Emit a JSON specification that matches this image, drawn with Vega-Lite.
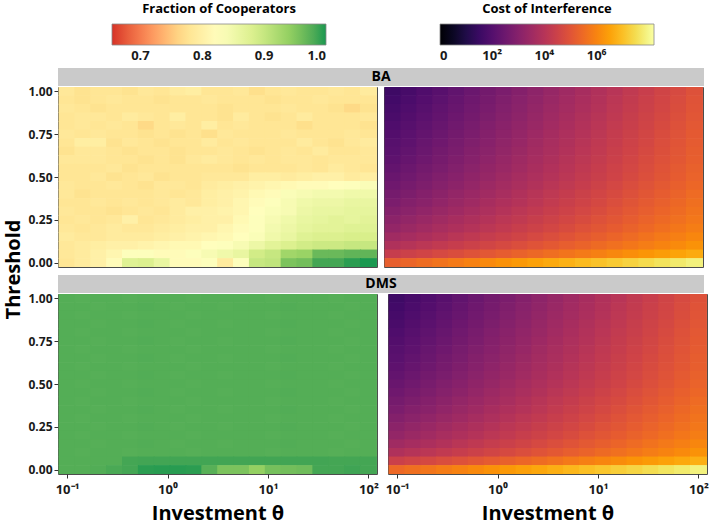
{"$schema":"https://vega.github.io/schema/vega-lite/v6.json","padding":{"left":4,"top":3,"right":0,"bottom":0},
"config":{"font":"Open Sans","view":{"stroke":"#4d4d4d","strokeWidth":1},"axis":{"labelFont":"Open Sans","labelFontWeight":"bold","labelFontSize":12,"labelColor":"#1a1a1a","tickColor":"#333","tickSize":4,"domain":false,"grid":false,"titleFont":"Open Sans","titleFontWeight":"bold","titleFontSize":20,"titleColor":"#000"},"legend":{"labelFont":"Open Sans","titleFont":"Open Sans"}},
"datasets":{"cells":[
{"n":"BA","t":1,"x":0.1,"f":0.785,"c":1.56},{"n":"BA","t":1,"x":0.1438,"f":0.775,"c":1.74},{"n":"BA","t":1,"x":0.2069,"f":0.78,"c":1.91},{"n":"BA","t":1,"x":0.2976,"f":0.78,"c":2.09},{"n":"BA","t":1,"x":0.4281,"f":0.775,"c":2.27},{"n":"BA","t":1,"x":0.6158,"f":0.785,"c":2.44},{"n":"BA","t":1,"x":0.8859,"f":0.78,"c":2.62},{"n":"BA","t":1,"x":1.274,"f":0.79,"c":2.8},{"n":"BA","t":1,"x":1.833,"f":0.795,"c":2.97},{"n":"BA","t":1,"x":2.637,"f":0.78,"c":3.15},{"n":"BA","t":1,"x":3.793,"f":0.78,"c":3.33},{"n":"BA","t":1,"x":5.456,"f":0.785,"c":3.51},{"n":"BA","t":1,"x":7.848,"f":0.77,"c":3.68},{"n":"BA","t":1,"x":11.29,"f":0.78,"c":3.86},{"n":"BA","t":1,"x":16.24,"f":0.785,"c":4.04},{"n":"BA","t":1,"x":23.36,"f":0.78,"c":4.21},{"n":"BA","t":1,"x":33.6,"f":0.78,"c":4.39},{"n":"BA","t":1,"x":48.33,"f":0.785,"c":4.57},{"n":"BA","t":1,"x":69.52,"f":0.78,"c":4.74},{"n":"BA","t":1,"x":100,"f":0.79,"c":4.92},
{"n":"BA","t":0.95,"x":0.1,"f":0.78,"c":1.64},{"n":"BA","t":0.95,"x":0.1438,"f":0.775,"c":1.82},{"n":"BA","t":0.95,"x":0.2069,"f":0.78,"c":1.99},{"n":"BA","t":0.95,"x":0.2976,"f":0.785,"c":2.17},{"n":"BA","t":0.95,"x":0.4281,"f":0.78,"c":2.34},{"n":"BA","t":0.95,"x":0.6158,"f":0.78,"c":2.52},{"n":"BA","t":0.95,"x":0.8859,"f":0.775,"c":2.69},{"n":"BA","t":0.95,"x":1.274,"f":0.78,"c":2.87},{"n":"BA","t":0.95,"x":1.833,"f":0.78,"c":3.04},{"n":"BA","t":0.95,"x":2.637,"f":0.785,"c":3.22},{"n":"BA","t":0.95,"x":3.793,"f":0.78,"c":3.39},{"n":"BA","t":0.95,"x":5.456,"f":0.78,"c":3.57},{"n":"BA","t":0.95,"x":7.848,"f":0.78,"c":3.74},{"n":"BA","t":0.95,"x":11.29,"f":0.775,"c":3.92},{"n":"BA","t":0.95,"x":16.24,"f":0.78,"c":4.09},{"n":"BA","t":0.95,"x":23.36,"f":0.78,"c":4.27},{"n":"BA","t":0.95,"x":33.6,"f":0.785,"c":4.44},{"n":"BA","t":0.95,"x":48.33,"f":0.78,"c":4.62},{"n":"BA","t":0.95,"x":69.52,"f":0.78,"c":4.79},{"n":"BA","t":0.95,"x":100,"f":0.78,"c":4.97},
{"n":"BA","t":0.9,"x":0.1,"f":0.785,"c":1.72},{"n":"BA","t":0.9,"x":0.1438,"f":0.78,"c":1.89},{"n":"BA","t":0.9,"x":0.2069,"f":0.775,"c":2.07},{"n":"BA","t":0.9,"x":0.2976,"f":0.78,"c":2.24},{"n":"BA","t":0.9,"x":0.4281,"f":0.78,"c":2.41},{"n":"BA","t":0.9,"x":0.6158,"f":0.78,"c":2.58},{"n":"BA","t":0.9,"x":0.8859,"f":0.78,"c":2.76},{"n":"BA","t":0.9,"x":1.274,"f":0.78,"c":2.93},{"n":"BA","t":0.9,"x":1.833,"f":0.78,"c":3.1},{"n":"BA","t":0.9,"x":2.637,"f":0.78,"c":3.27},{"n":"BA","t":0.9,"x":3.793,"f":0.775,"c":3.45},{"n":"BA","t":0.9,"x":5.456,"f":0.78,"c":3.62},{"n":"BA","t":0.9,"x":7.848,"f":0.78,"c":3.79},{"n":"BA","t":0.9,"x":11.29,"f":0.78,"c":3.96},{"n":"BA","t":0.9,"x":16.24,"f":0.785,"c":4.14},{"n":"BA","t":0.9,"x":23.36,"f":0.78,"c":4.31},{"n":"BA","t":0.9,"x":33.6,"f":0.78,"c":4.48},{"n":"BA","t":0.9,"x":48.33,"f":0.775,"c":4.65},{"n":"BA","t":0.9,"x":69.52,"f":0.765,"c":4.83},{"n":"BA","t":0.9,"x":100,"f":0.775,"c":5.0},
{"n":"BA","t":0.85,"x":0.1,"f":0.78,"c":1.8},{"n":"BA","t":0.85,"x":0.1438,"f":0.785,"c":1.97},{"n":"BA","t":0.85,"x":0.2069,"f":0.785,"c":2.14},{"n":"BA","t":0.85,"x":0.2976,"f":0.78,"c":2.31},{"n":"BA","t":0.85,"x":0.4281,"f":0.79,"c":2.48},{"n":"BA","t":0.85,"x":0.6158,"f":0.785,"c":2.65},{"n":"BA","t":0.85,"x":0.8859,"f":0.78,"c":2.82},{"n":"BA","t":0.85,"x":1.274,"f":0.795,"c":2.99},{"n":"BA","t":0.85,"x":1.833,"f":0.78,"c":3.16},{"n":"BA","t":0.85,"x":2.637,"f":0.78,"c":3.33},{"n":"BA","t":0.85,"x":3.793,"f":0.775,"c":3.51},{"n":"BA","t":0.85,"x":5.456,"f":0.79,"c":3.68},{"n":"BA","t":0.85,"x":7.848,"f":0.78,"c":3.85},{"n":"BA","t":0.85,"x":11.29,"f":0.775,"c":4.02},{"n":"BA","t":0.85,"x":16.24,"f":0.78,"c":4.19},{"n":"BA","t":0.85,"x":23.36,"f":0.79,"c":4.36},{"n":"BA","t":0.85,"x":33.6,"f":0.78,"c":4.53},{"n":"BA","t":0.85,"x":48.33,"f":0.78,"c":4.7},{"n":"BA","t":0.85,"x":69.52,"f":0.78,"c":4.87},{"n":"BA","t":0.85,"x":100,"f":0.785,"c":5.04},
{"n":"BA","t":0.8,"x":0.1,"f":0.78,"c":1.89},{"n":"BA","t":0.8,"x":0.1438,"f":0.785,"c":2.06},{"n":"BA","t":0.8,"x":0.2069,"f":0.78,"c":2.22},{"n":"BA","t":0.8,"x":0.2976,"f":0.785,"c":2.39},{"n":"BA","t":0.8,"x":0.4281,"f":0.78,"c":2.56},{"n":"BA","t":0.8,"x":0.6158,"f":0.765,"c":2.73},{"n":"BA","t":0.8,"x":0.8859,"f":0.78,"c":2.9},{"n":"BA","t":0.8,"x":1.274,"f":0.785,"c":3.07},{"n":"BA","t":0.8,"x":1.833,"f":0.78,"c":3.24},{"n":"BA","t":0.8,"x":2.637,"f":0.795,"c":3.4},{"n":"BA","t":0.8,"x":3.793,"f":0.78,"c":3.57},{"n":"BA","t":0.8,"x":5.456,"f":0.785,"c":3.74},{"n":"BA","t":0.8,"x":7.848,"f":0.78,"c":3.91},{"n":"BA","t":0.8,"x":11.29,"f":0.78,"c":4.08},{"n":"BA","t":0.8,"x":16.24,"f":0.78,"c":4.25},{"n":"BA","t":0.8,"x":23.36,"f":0.77,"c":4.41},{"n":"BA","t":0.8,"x":33.6,"f":0.78,"c":4.58},{"n":"BA","t":0.8,"x":48.33,"f":0.78,"c":4.75},{"n":"BA","t":0.8,"x":69.52,"f":0.78,"c":4.92},{"n":"BA","t":0.8,"x":100,"f":0.775,"c":5.09},
{"n":"BA","t":0.75,"x":0.1,"f":0.785,"c":1.97},{"n":"BA","t":0.75,"x":0.1438,"f":0.78,"c":2.14},{"n":"BA","t":0.75,"x":0.2069,"f":0.785,"c":2.3},{"n":"BA","t":0.75,"x":0.2976,"f":0.78,"c":2.47},{"n":"BA","t":0.75,"x":0.4281,"f":0.78,"c":2.63},{"n":"BA","t":0.75,"x":0.6158,"f":0.775,"c":2.8},{"n":"BA","t":0.75,"x":0.8859,"f":0.78,"c":2.97},{"n":"BA","t":0.75,"x":1.274,"f":0.775,"c":3.13},{"n":"BA","t":0.75,"x":1.833,"f":0.78,"c":3.3},{"n":"BA","t":0.75,"x":2.637,"f":0.77,"c":3.47},{"n":"BA","t":0.75,"x":3.793,"f":0.785,"c":3.63},{"n":"BA","t":0.75,"x":5.456,"f":0.78,"c":3.8},{"n":"BA","t":0.75,"x":7.848,"f":0.78,"c":3.96},{"n":"BA","t":0.75,"x":11.29,"f":0.78,"c":4.13},{"n":"BA","t":0.75,"x":16.24,"f":0.785,"c":4.3},{"n":"BA","t":0.75,"x":23.36,"f":0.78,"c":4.46},{"n":"BA","t":0.75,"x":33.6,"f":0.78,"c":4.63},{"n":"BA","t":0.75,"x":48.33,"f":0.78,"c":4.8},{"n":"BA","t":0.75,"x":69.52,"f":0.785,"c":4.96},{"n":"BA","t":0.75,"x":100,"f":0.78,"c":5.13},
{"n":"BA","t":0.7,"x":0.1,"f":0.78,"c":2.05},{"n":"BA","t":0.7,"x":0.1438,"f":0.795,"c":2.21},{"n":"BA","t":0.7,"x":0.2069,"f":0.795,"c":2.38},{"n":"BA","t":0.7,"x":0.2976,"f":0.775,"c":2.54},{"n":"BA","t":0.7,"x":0.4281,"f":0.785,"c":2.71},{"n":"BA","t":0.7,"x":0.6158,"f":0.78,"c":2.87},{"n":"BA","t":0.7,"x":0.8859,"f":0.775,"c":3.03},{"n":"BA","t":0.7,"x":1.274,"f":0.78,"c":3.2},{"n":"BA","t":0.7,"x":1.833,"f":0.78,"c":3.36},{"n":"BA","t":0.7,"x":2.637,"f":0.79,"c":3.53},{"n":"BA","t":0.7,"x":3.793,"f":0.78,"c":3.69},{"n":"BA","t":0.7,"x":5.456,"f":0.785,"c":3.85},{"n":"BA","t":0.7,"x":7.848,"f":0.78,"c":4.02},{"n":"BA","t":0.7,"x":11.29,"f":0.78,"c":4.18},{"n":"BA","t":0.7,"x":16.24,"f":0.78,"c":4.35},{"n":"BA","t":0.7,"x":23.36,"f":0.79,"c":4.51},{"n":"BA","t":0.7,"x":33.6,"f":0.78,"c":4.67},{"n":"BA","t":0.7,"x":48.33,"f":0.775,"c":4.84},{"n":"BA","t":0.7,"x":69.52,"f":0.785,"c":5.0},{"n":"BA","t":0.7,"x":100,"f":0.79,"c":5.17},
{"n":"BA","t":0.65,"x":0.1,"f":0.775,"c":2.13},{"n":"BA","t":0.65,"x":0.1438,"f":0.785,"c":2.29},{"n":"BA","t":0.65,"x":0.2069,"f":0.785,"c":2.45},{"n":"BA","t":0.65,"x":0.2976,"f":0.78,"c":2.62},{"n":"BA","t":0.65,"x":0.4281,"f":0.775,"c":2.78},{"n":"BA","t":0.65,"x":0.6158,"f":0.78,"c":2.94},{"n":"BA","t":0.65,"x":0.8859,"f":0.78,"c":3.1},{"n":"BA","t":0.65,"x":1.274,"f":0.775,"c":3.26},{"n":"BA","t":0.65,"x":1.833,"f":0.78,"c":3.42},{"n":"BA","t":0.65,"x":2.637,"f":0.78,"c":3.59},{"n":"BA","t":0.65,"x":3.793,"f":0.785,"c":3.75},{"n":"BA","t":0.65,"x":5.456,"f":0.78,"c":3.91},{"n":"BA","t":0.65,"x":7.848,"f":0.775,"c":4.07},{"n":"BA","t":0.65,"x":11.29,"f":0.78,"c":4.23},{"n":"BA","t":0.65,"x":16.24,"f":0.785,"c":4.4},{"n":"BA","t":0.65,"x":23.36,"f":0.78,"c":4.56},{"n":"BA","t":0.65,"x":33.6,"f":0.79,"c":4.72},{"n":"BA","t":0.65,"x":48.33,"f":0.78,"c":4.88},{"n":"BA","t":0.65,"x":69.52,"f":0.78,"c":5.04},{"n":"BA","t":0.65,"x":100,"f":0.785,"c":5.21},
{"n":"BA","t":0.6,"x":0.1,"f":0.785,"c":2.21},{"n":"BA","t":0.6,"x":0.1438,"f":0.785,"c":2.37},{"n":"BA","t":0.6,"x":0.2069,"f":0.785,"c":2.53},{"n":"BA","t":0.6,"x":0.2976,"f":0.78,"c":2.69},{"n":"BA","t":0.6,"x":0.4281,"f":0.78,"c":2.85},{"n":"BA","t":0.6,"x":0.6158,"f":0.775,"c":3.01},{"n":"BA","t":0.6,"x":0.8859,"f":0.78,"c":3.17},{"n":"BA","t":0.6,"x":1.274,"f":0.775,"c":3.33},{"n":"BA","t":0.6,"x":1.833,"f":0.785,"c":3.49},{"n":"BA","t":0.6,"x":2.637,"f":0.79,"c":3.65},{"n":"BA","t":0.6,"x":3.793,"f":0.785,"c":3.81},{"n":"BA","t":0.6,"x":5.456,"f":0.78,"c":3.97},{"n":"BA","t":0.6,"x":7.848,"f":0.785,"c":4.13},{"n":"BA","t":0.6,"x":11.29,"f":0.78,"c":4.29},{"n":"BA","t":0.6,"x":16.24,"f":0.785,"c":4.45},{"n":"BA","t":0.6,"x":23.36,"f":0.785,"c":4.61},{"n":"BA","t":0.6,"x":33.6,"f":0.78,"c":4.77},{"n":"BA","t":0.6,"x":48.33,"f":0.785,"c":4.92},{"n":"BA","t":0.6,"x":69.52,"f":0.785,"c":5.08},{"n":"BA","t":0.6,"x":100,"f":0.785,"c":5.24},
{"n":"BA","t":0.55,"x":0.1,"f":0.78,"c":2.3},{"n":"BA","t":0.55,"x":0.1438,"f":0.78,"c":2.46},{"n":"BA","t":0.55,"x":0.2069,"f":0.78,"c":2.62},{"n":"BA","t":0.55,"x":0.2976,"f":0.785,"c":2.77},{"n":"BA","t":0.55,"x":0.4281,"f":0.775,"c":2.93},{"n":"BA","t":0.55,"x":0.6158,"f":0.78,"c":3.09},{"n":"BA","t":0.55,"x":0.8859,"f":0.78,"c":3.25},{"n":"BA","t":0.55,"x":1.274,"f":0.78,"c":3.4},{"n":"BA","t":0.55,"x":1.833,"f":0.78,"c":3.56},{"n":"BA","t":0.55,"x":2.637,"f":0.78,"c":3.72},{"n":"BA","t":0.55,"x":3.793,"f":0.78,"c":3.88},{"n":"BA","t":0.55,"x":5.456,"f":0.775,"c":4.03},{"n":"BA","t":0.55,"x":7.848,"f":0.78,"c":4.19},{"n":"BA","t":0.55,"x":11.29,"f":0.78,"c":4.35},{"n":"BA","t":0.55,"x":16.24,"f":0.78,"c":4.51},{"n":"BA","t":0.55,"x":23.36,"f":0.785,"c":4.66},{"n":"BA","t":0.55,"x":33.6,"f":0.78,"c":4.82},{"n":"BA","t":0.55,"x":48.33,"f":0.79,"c":4.98},{"n":"BA","t":0.55,"x":69.52,"f":0.785,"c":5.14},{"n":"BA","t":0.55,"x":100,"f":0.78,"c":5.29},
{"n":"BA","t":0.5,"x":0.1,"f":0.78,"c":2.42},{"n":"BA","t":0.5,"x":0.1438,"f":0.78,"c":2.57},{"n":"BA","t":0.5,"x":0.2069,"f":0.785,"c":2.73},{"n":"BA","t":0.5,"x":0.2976,"f":0.775,"c":2.88},{"n":"BA","t":0.5,"x":0.4281,"f":0.78,"c":3.03},{"n":"BA","t":0.5,"x":0.6158,"f":0.785,"c":3.19},{"n":"BA","t":0.5,"x":0.8859,"f":0.775,"c":3.34},{"n":"BA","t":0.5,"x":1.274,"f":0.78,"c":3.49},{"n":"BA","t":0.5,"x":1.833,"f":0.78,"c":3.65},{"n":"BA","t":0.5,"x":2.637,"f":0.785,"c":3.8},{"n":"BA","t":0.5,"x":3.793,"f":0.785,"c":3.95},{"n":"BA","t":0.5,"x":5.456,"f":0.785,"c":4.11},{"n":"BA","t":0.5,"x":7.848,"f":0.795,"c":4.26},{"n":"BA","t":0.5,"x":11.29,"f":0.795,"c":4.41},{"n":"BA","t":0.5,"x":16.24,"f":0.79,"c":4.56},{"n":"BA","t":0.5,"x":23.36,"f":0.795,"c":4.72},{"n":"BA","t":0.5,"x":33.6,"f":0.8,"c":4.87},{"n":"BA","t":0.5,"x":48.33,"f":0.8,"c":5.02},{"n":"BA","t":0.5,"x":69.52,"f":0.79,"c":5.18},{"n":"BA","t":0.5,"x":100,"f":0.795,"c":5.33},
{"n":"BA","t":0.45,"x":0.1,"f":0.785,"c":2.54},{"n":"BA","t":0.45,"x":0.1438,"f":0.78,"c":2.69},{"n":"BA","t":0.45,"x":0.2069,"f":0.78,"c":2.84},{"n":"BA","t":0.45,"x":0.2976,"f":0.785,"c":2.99},{"n":"BA","t":0.45,"x":0.4281,"f":0.78,"c":3.14},{"n":"BA","t":0.45,"x":0.6158,"f":0.775,"c":3.3},{"n":"BA","t":0.45,"x":0.8859,"f":0.785,"c":3.45},{"n":"BA","t":0.45,"x":1.274,"f":0.785,"c":3.6},{"n":"BA","t":0.45,"x":1.833,"f":0.78,"c":3.75},{"n":"BA","t":0.45,"x":2.637,"f":0.79,"c":3.9},{"n":"BA","t":0.45,"x":3.793,"f":0.795,"c":4.05},{"n":"BA","t":0.45,"x":5.456,"f":0.8,"c":4.2},{"n":"BA","t":0.45,"x":7.848,"f":0.805,"c":4.35},{"n":"BA","t":0.45,"x":11.29,"f":0.81,"c":4.5},{"n":"BA","t":0.45,"x":16.24,"f":0.815,"c":4.66},{"n":"BA","t":0.45,"x":23.36,"f":0.82,"c":4.81},{"n":"BA","t":0.45,"x":33.6,"f":0.82,"c":4.96},{"n":"BA","t":0.45,"x":48.33,"f":0.825,"c":5.11},{"n":"BA","t":0.45,"x":69.52,"f":0.83,"c":5.26},{"n":"BA","t":0.45,"x":100,"f":0.835,"c":5.41},
{"n":"BA","t":0.4,"x":0.1,"f":0.785,"c":2.67},{"n":"BA","t":0.4,"x":0.1438,"f":0.775,"c":2.82},{"n":"BA","t":0.4,"x":0.2069,"f":0.78,"c":2.97},{"n":"BA","t":0.4,"x":0.2976,"f":0.78,"c":3.12},{"n":"BA","t":0.4,"x":0.4281,"f":0.78,"c":3.27},{"n":"BA","t":0.4,"x":0.6158,"f":0.78,"c":3.41},{"n":"BA","t":0.4,"x":0.8859,"f":0.785,"c":3.56},{"n":"BA","t":0.4,"x":1.274,"f":0.78,"c":3.71},{"n":"BA","t":0.4,"x":1.833,"f":0.785,"c":3.86},{"n":"BA","t":0.4,"x":2.637,"f":0.795,"c":4.01},{"n":"BA","t":0.4,"x":3.793,"f":0.8,"c":4.16},{"n":"BA","t":0.4,"x":5.456,"f":0.805,"c":4.31},{"n":"BA","t":0.4,"x":7.848,"f":0.815,"c":4.46},{"n":"BA","t":0.4,"x":11.29,"f":0.82,"c":4.61},{"n":"BA","t":0.4,"x":16.24,"f":0.835,"c":4.75},{"n":"BA","t":0.4,"x":23.36,"f":0.84,"c":4.9},{"n":"BA","t":0.4,"x":33.6,"f":0.845,"c":5.05},{"n":"BA","t":0.4,"x":48.33,"f":0.845,"c":5.2},{"n":"BA","t":0.4,"x":69.52,"f":0.85,"c":5.35},{"n":"BA","t":0.4,"x":100,"f":0.85,"c":5.5},
{"n":"BA","t":0.35,"x":0.1,"f":0.78,"c":2.79},{"n":"BA","t":0.35,"x":0.1438,"f":0.78,"c":2.94},{"n":"BA","t":0.35,"x":0.2069,"f":0.785,"c":3.08},{"n":"BA","t":0.35,"x":0.2976,"f":0.78,"c":3.23},{"n":"BA","t":0.35,"x":0.4281,"f":0.785,"c":3.38},{"n":"BA","t":0.35,"x":0.6158,"f":0.78,"c":3.52},{"n":"BA","t":0.35,"x":0.8859,"f":0.785,"c":3.67},{"n":"BA","t":0.35,"x":1.274,"f":0.79,"c":3.82},{"n":"BA","t":0.35,"x":1.833,"f":0.785,"c":3.96},{"n":"BA","t":0.35,"x":2.637,"f":0.795,"c":4.11},{"n":"BA","t":0.35,"x":3.793,"f":0.8,"c":4.26},{"n":"BA","t":0.35,"x":5.456,"f":0.81,"c":4.4},{"n":"BA","t":0.35,"x":7.848,"f":0.82,"c":4.55},{"n":"BA","t":0.35,"x":11.29,"f":0.83,"c":4.7},{"n":"BA","t":0.35,"x":16.24,"f":0.84,"c":4.84},{"n":"BA","t":0.35,"x":23.36,"f":0.85,"c":4.99},{"n":"BA","t":0.35,"x":33.6,"f":0.855,"c":5.14},{"n":"BA","t":0.35,"x":48.33,"f":0.855,"c":5.28},{"n":"BA","t":0.35,"x":69.52,"f":0.86,"c":5.43},{"n":"BA","t":0.35,"x":100,"f":0.86,"c":5.58},
{"n":"BA","t":0.3,"x":0.1,"f":0.785,"c":2.95},{"n":"BA","t":0.3,"x":0.1438,"f":0.78,"c":3.09},{"n":"BA","t":0.3,"x":0.2069,"f":0.78,"c":3.23},{"n":"BA","t":0.3,"x":0.2976,"f":0.775,"c":3.38},{"n":"BA","t":0.3,"x":0.4281,"f":0.78,"c":3.52},{"n":"BA","t":0.3,"x":0.6158,"f":0.785,"c":3.66},{"n":"BA","t":0.3,"x":0.8859,"f":0.78,"c":3.8},{"n":"BA","t":0.3,"x":1.274,"f":0.79,"c":3.95},{"n":"BA","t":0.3,"x":1.833,"f":0.8,"c":4.09},{"n":"BA","t":0.3,"x":2.637,"f":0.8,"c":4.23},{"n":"BA","t":0.3,"x":3.793,"f":0.805,"c":4.37},{"n":"BA","t":0.3,"x":5.456,"f":0.81,"c":4.52},{"n":"BA","t":0.3,"x":7.848,"f":0.825,"c":4.66},{"n":"BA","t":0.3,"x":11.29,"f":0.835,"c":4.8},{"n":"BA","t":0.3,"x":16.24,"f":0.84,"c":4.94},{"n":"BA","t":0.3,"x":23.36,"f":0.855,"c":5.09},{"n":"BA","t":0.3,"x":33.6,"f":0.86,"c":5.23},{"n":"BA","t":0.3,"x":48.33,"f":0.86,"c":5.37},{"n":"BA","t":0.3,"x":69.52,"f":0.865,"c":5.51},{"n":"BA","t":0.3,"x":100,"f":0.865,"c":5.66},
{"n":"BA","t":0.25,"x":0.1,"f":0.78,"c":3.12},{"n":"BA","t":0.25,"x":0.1438,"f":0.785,"c":3.26},{"n":"BA","t":0.25,"x":0.2069,"f":0.78,"c":3.4},{"n":"BA","t":0.25,"x":0.2976,"f":0.785,"c":3.53},{"n":"BA","t":0.25,"x":0.4281,"f":0.8,"c":3.67},{"n":"BA","t":0.25,"x":0.6158,"f":0.78,"c":3.81},{"n":"BA","t":0.25,"x":0.8859,"f":0.785,"c":3.95},{"n":"BA","t":0.25,"x":1.274,"f":0.79,"c":4.09},{"n":"BA","t":0.25,"x":1.833,"f":0.795,"c":4.22},{"n":"BA","t":0.25,"x":2.637,"f":0.8,"c":4.36},{"n":"BA","t":0.25,"x":3.793,"f":0.8,"c":4.5},{"n":"BA","t":0.25,"x":5.456,"f":0.815,"c":4.64},{"n":"BA","t":0.25,"x":7.848,"f":0.83,"c":4.78},{"n":"BA","t":0.25,"x":11.29,"f":0.84,"c":4.92},{"n":"BA","t":0.25,"x":16.24,"f":0.85,"c":5.05},{"n":"BA","t":0.25,"x":23.36,"f":0.86,"c":5.19},{"n":"BA","t":0.25,"x":33.6,"f":0.865,"c":5.33},{"n":"BA","t":0.25,"x":48.33,"f":0.87,"c":5.47},{"n":"BA","t":0.25,"x":69.52,"f":0.865,"c":5.6},{"n":"BA","t":0.25,"x":100,"f":0.87,"c":5.74},
{"n":"BA","t":0.2,"x":0.1,"f":0.785,"c":3.28},{"n":"BA","t":0.2,"x":0.1438,"f":0.78,"c":3.42},{"n":"BA","t":0.2,"x":0.2069,"f":0.785,"c":3.55},{"n":"BA","t":0.2,"x":0.2976,"f":0.79,"c":3.69},{"n":"BA","t":0.2,"x":0.4281,"f":0.785,"c":3.82},{"n":"BA","t":0.2,"x":0.6158,"f":0.785,"c":3.96},{"n":"BA","t":0.2,"x":0.8859,"f":0.79,"c":4.1},{"n":"BA","t":0.2,"x":1.274,"f":0.795,"c":4.23},{"n":"BA","t":0.2,"x":1.833,"f":0.8,"c":4.37},{"n":"BA","t":0.2,"x":2.637,"f":0.8,"c":4.5},{"n":"BA","t":0.2,"x":3.793,"f":0.81,"c":4.64},{"n":"BA","t":0.2,"x":5.456,"f":0.82,"c":4.77},{"n":"BA","t":0.2,"x":7.848,"f":0.83,"c":4.91},{"n":"BA","t":0.2,"x":11.29,"f":0.845,"c":5.05},{"n":"BA","t":0.2,"x":16.24,"f":0.855,"c":5.18},{"n":"BA","t":0.2,"x":23.36,"f":0.865,"c":5.32},{"n":"BA","t":0.2,"x":33.6,"f":0.87,"c":5.45},{"n":"BA","t":0.2,"x":48.33,"f":0.87,"c":5.59},{"n":"BA","t":0.2,"x":69.52,"f":0.875,"c":5.73},{"n":"BA","t":0.2,"x":100,"f":0.875,"c":5.86},
{"n":"BA","t":0.15,"x":0.1,"f":0.79,"c":3.53},{"n":"BA","t":0.15,"x":0.1438,"f":0.785,"c":3.66},{"n":"BA","t":0.15,"x":0.2069,"f":0.785,"c":3.79},{"n":"BA","t":0.15,"x":0.2976,"f":0.79,"c":3.92},{"n":"BA","t":0.15,"x":0.4281,"f":0.79,"c":4.06},{"n":"BA","t":0.15,"x":0.6158,"f":0.79,"c":4.19},{"n":"BA","t":0.15,"x":0.8859,"f":0.795,"c":4.32},{"n":"BA","t":0.15,"x":1.274,"f":0.8,"c":4.45},{"n":"BA","t":0.15,"x":1.833,"f":0.805,"c":4.58},{"n":"BA","t":0.15,"x":2.637,"f":0.81,"c":4.71},{"n":"BA","t":0.15,"x":3.793,"f":0.815,"c":4.85},{"n":"BA","t":0.15,"x":5.456,"f":0.825,"c":4.98},{"n":"BA","t":0.15,"x":7.848,"f":0.835,"c":5.11},{"n":"BA","t":0.15,"x":11.29,"f":0.85,"c":5.24},{"n":"BA","t":0.15,"x":16.24,"f":0.86,"c":5.37},{"n":"BA","t":0.15,"x":23.36,"f":0.875,"c":5.5},{"n":"BA","t":0.15,"x":33.6,"f":0.88,"c":5.64},{"n":"BA","t":0.15,"x":48.33,"f":0.88,"c":5.77},{"n":"BA","t":0.15,"x":69.52,"f":0.885,"c":5.9},{"n":"BA","t":0.15,"x":100,"f":0.885,"c":6.03},
{"n":"BA","t":0.1,"x":0.1,"f":0.785,"c":3.85},{"n":"BA","t":0.1,"x":0.1438,"f":0.79,"c":3.98},{"n":"BA","t":0.1,"x":0.2069,"f":0.795,"c":4.1},{"n":"BA","t":0.1,"x":0.2976,"f":0.8,"c":4.23},{"n":"BA","t":0.1,"x":0.4281,"f":0.8,"c":4.35},{"n":"BA","t":0.1,"x":0.6158,"f":0.805,"c":4.48},{"n":"BA","t":0.1,"x":0.8859,"f":0.81,"c":4.6},{"n":"BA","t":0.1,"x":1.274,"f":0.815,"c":4.73},{"n":"BA","t":0.1,"x":1.833,"f":0.815,"c":4.85},{"n":"BA","t":0.1,"x":2.637,"f":0.825,"c":4.98},{"n":"BA","t":0.1,"x":3.793,"f":0.83,"c":5.1},{"n":"BA","t":0.1,"x":5.456,"f":0.84,"c":5.23},{"n":"BA","t":0.1,"x":7.848,"f":0.855,"c":5.35},{"n":"BA","t":0.1,"x":11.29,"f":0.87,"c":5.48},{"n":"BA","t":0.1,"x":16.24,"f":0.88,"c":5.6},{"n":"BA","t":0.1,"x":23.36,"f":0.89,"c":5.73},{"n":"BA","t":0.1,"x":33.6,"f":0.895,"c":5.85},{"n":"BA","t":0.1,"x":48.33,"f":0.895,"c":5.98},{"n":"BA","t":0.1,"x":69.52,"f":0.9,"c":6.1},{"n":"BA","t":0.1,"x":100,"f":0.9,"c":6.23},
{"n":"BA","t":0.05,"x":0.1,"f":0.785,"c":4.35},{"n":"BA","t":0.05,"x":0.1438,"f":0.79,"c":4.47},{"n":"BA","t":0.05,"x":0.2069,"f":0.8,"c":4.59},{"n":"BA","t":0.05,"x":0.2976,"f":0.81,"c":4.71},{"n":"BA","t":0.05,"x":0.4281,"f":0.83,"c":4.83},{"n":"BA","t":0.05,"x":0.6158,"f":0.83,"c":4.95},{"n":"BA","t":0.05,"x":0.8859,"f":0.82,"c":5.07},{"n":"BA","t":0.05,"x":1.274,"f":0.82,"c":5.2},{"n":"BA","t":0.05,"x":1.833,"f":0.83,"c":5.32},{"n":"BA","t":0.05,"x":2.637,"f":0.84,"c":5.44},{"n":"BA","t":0.05,"x":3.793,"f":0.85,"c":5.56},{"n":"BA","t":0.05,"x":5.456,"f":0.86,"c":5.68},{"n":"BA","t":0.05,"x":7.848,"f":0.89,"c":5.8},{"n":"BA","t":0.05,"x":11.29,"f":0.9,"c":5.92},{"n":"BA","t":0.05,"x":16.24,"f":0.93,"c":6.04},{"n":"BA","t":0.05,"x":23.36,"f":0.935,"c":6.16},{"n":"BA","t":0.05,"x":33.6,"f":0.965,"c":6.28},{"n":"BA","t":0.05,"x":48.33,"f":0.965,"c":6.4},{"n":"BA","t":0.05,"x":69.52,"f":0.97,"c":6.52},{"n":"BA","t":0.05,"x":100,"f":0.97,"c":6.65},
{"n":"BA","t":0,"x":0.1,"f":0.78,"c":5.25},{"n":"BA","t":0,"x":0.1438,"f":0.79,"c":5.39},{"n":"BA","t":0,"x":0.2069,"f":0.8,"c":5.53},{"n":"BA","t":0,"x":0.2976,"f":0.82,"c":5.66},{"n":"BA","t":0,"x":0.4281,"f":0.875,"c":5.8},{"n":"BA","t":0,"x":0.6158,"f":0.88,"c":5.94},{"n":"BA","t":0,"x":0.8859,"f":0.86,"c":6.08},{"n":"BA","t":0,"x":1.274,"f":0.82,"c":6.22},{"n":"BA","t":0,"x":1.833,"f":0.82,"c":6.35},{"n":"BA","t":0,"x":2.637,"f":0.83,"c":6.49},{"n":"BA","t":0,"x":3.793,"f":0.79,"c":6.63},{"n":"BA","t":0,"x":5.456,"f":0.83,"c":6.77},{"n":"BA","t":0,"x":7.848,"f":0.9,"c":6.91},{"n":"BA","t":0,"x":11.29,"f":0.905,"c":7.05},{"n":"BA","t":0,"x":16.24,"f":0.955,"c":7.18},{"n":"BA","t":0,"x":23.36,"f":0.96,"c":7.32},{"n":"BA","t":0,"x":33.6,"f":0.985,"c":7.46},{"n":"BA","t":0,"x":48.33,"f":0.985,"c":7.6},{"n":"BA","t":0,"x":69.52,"f":0.995,"c":7.74},{"n":"BA","t":0,"x":100,"f":1.0,"c":7.87},
{"n":"DMS","t":1,"x":0.1,"f":0.977,"c":1.56},{"n":"DMS","t":1,"x":0.1438,"f":0.976,"c":1.74},{"n":"DMS","t":1,"x":0.2069,"f":0.977,"c":1.91},{"n":"DMS","t":1,"x":0.2976,"f":0.977,"c":2.09},{"n":"DMS","t":1,"x":0.4281,"f":0.976,"c":2.27},{"n":"DMS","t":1,"x":0.6158,"f":0.977,"c":2.44},{"n":"DMS","t":1,"x":0.8859,"f":0.977,"c":2.62},{"n":"DMS","t":1,"x":1.274,"f":0.977,"c":2.8},{"n":"DMS","t":1,"x":1.833,"f":0.976,"c":2.97},{"n":"DMS","t":1,"x":2.637,"f":0.977,"c":3.15},{"n":"DMS","t":1,"x":3.793,"f":0.977,"c":3.33},{"n":"DMS","t":1,"x":5.456,"f":0.977,"c":3.51},{"n":"DMS","t":1,"x":7.848,"f":0.977,"c":3.68},{"n":"DMS","t":1,"x":11.29,"f":0.976,"c":3.86},{"n":"DMS","t":1,"x":16.24,"f":0.977,"c":4.04},{"n":"DMS","t":1,"x":23.36,"f":0.977,"c":4.21},{"n":"DMS","t":1,"x":33.6,"f":0.977,"c":4.39},{"n":"DMS","t":1,"x":48.33,"f":0.976,"c":4.57},{"n":"DMS","t":1,"x":69.52,"f":0.977,"c":4.74},{"n":"DMS","t":1,"x":100,"f":0.977,"c":4.92},
{"n":"DMS","t":0.95,"x":0.1,"f":0.977,"c":1.64},{"n":"DMS","t":0.95,"x":0.1438,"f":0.977,"c":1.82},{"n":"DMS","t":0.95,"x":0.2069,"f":0.976,"c":1.99},{"n":"DMS","t":0.95,"x":0.2976,"f":0.977,"c":2.17},{"n":"DMS","t":0.95,"x":0.4281,"f":0.977,"c":2.34},{"n":"DMS","t":0.95,"x":0.6158,"f":0.978,"c":2.52},{"n":"DMS","t":0.95,"x":0.8859,"f":0.977,"c":2.69},{"n":"DMS","t":0.95,"x":1.274,"f":0.976,"c":2.87},{"n":"DMS","t":0.95,"x":1.833,"f":0.977,"c":3.04},{"n":"DMS","t":0.95,"x":2.637,"f":0.977,"c":3.22},{"n":"DMS","t":0.95,"x":3.793,"f":0.976,"c":3.39},{"n":"DMS","t":0.95,"x":5.456,"f":0.977,"c":3.57},{"n":"DMS","t":0.95,"x":7.848,"f":0.977,"c":3.74},{"n":"DMS","t":0.95,"x":11.29,"f":0.977,"c":3.92},{"n":"DMS","t":0.95,"x":16.24,"f":0.978,"c":4.09},{"n":"DMS","t":0.95,"x":23.36,"f":0.977,"c":4.27},{"n":"DMS","t":0.95,"x":33.6,"f":0.977,"c":4.44},{"n":"DMS","t":0.95,"x":48.33,"f":0.977,"c":4.62},{"n":"DMS","t":0.95,"x":69.52,"f":0.976,"c":4.79},{"n":"DMS","t":0.95,"x":100,"f":0.977,"c":4.97},
{"n":"DMS","t":0.9,"x":0.1,"f":0.977,"c":1.72},{"n":"DMS","t":0.9,"x":0.1438,"f":0.976,"c":1.89},{"n":"DMS","t":0.9,"x":0.2069,"f":0.977,"c":2.07},{"n":"DMS","t":0.9,"x":0.2976,"f":0.977,"c":2.24},{"n":"DMS","t":0.9,"x":0.4281,"f":0.976,"c":2.41},{"n":"DMS","t":0.9,"x":0.6158,"f":0.977,"c":2.58},{"n":"DMS","t":0.9,"x":0.8859,"f":0.977,"c":2.76},{"n":"DMS","t":0.9,"x":1.274,"f":0.977,"c":2.93},{"n":"DMS","t":0.9,"x":1.833,"f":0.976,"c":3.1},{"n":"DMS","t":0.9,"x":2.637,"f":0.977,"c":3.27},{"n":"DMS","t":0.9,"x":3.793,"f":0.977,"c":3.45},{"n":"DMS","t":0.9,"x":5.456,"f":0.977,"c":3.62},{"n":"DMS","t":0.9,"x":7.848,"f":0.977,"c":3.79},{"n":"DMS","t":0.9,"x":11.29,"f":0.976,"c":3.96},{"n":"DMS","t":0.9,"x":16.24,"f":0.977,"c":4.14},{"n":"DMS","t":0.9,"x":23.36,"f":0.977,"c":4.31},{"n":"DMS","t":0.9,"x":33.6,"f":0.977,"c":4.48},{"n":"DMS","t":0.9,"x":48.33,"f":0.976,"c":4.65},{"n":"DMS","t":0.9,"x":69.52,"f":0.977,"c":4.83},{"n":"DMS","t":0.9,"x":100,"f":0.977,"c":5.0},
{"n":"DMS","t":0.85,"x":0.1,"f":0.977,"c":1.8},{"n":"DMS","t":0.85,"x":0.1438,"f":0.977,"c":1.97},{"n":"DMS","t":0.85,"x":0.2069,"f":0.976,"c":2.14},{"n":"DMS","t":0.85,"x":0.2976,"f":0.977,"c":2.31},{"n":"DMS","t":0.85,"x":0.4281,"f":0.977,"c":2.48},{"n":"DMS","t":0.85,"x":0.6158,"f":0.978,"c":2.65},{"n":"DMS","t":0.85,"x":0.8859,"f":0.977,"c":2.82},{"n":"DMS","t":0.85,"x":1.274,"f":0.976,"c":2.99},{"n":"DMS","t":0.85,"x":1.833,"f":0.977,"c":3.16},{"n":"DMS","t":0.85,"x":2.637,"f":0.977,"c":3.33},{"n":"DMS","t":0.85,"x":3.793,"f":0.976,"c":3.51},{"n":"DMS","t":0.85,"x":5.456,"f":0.977,"c":3.68},{"n":"DMS","t":0.85,"x":7.848,"f":0.977,"c":3.85},{"n":"DMS","t":0.85,"x":11.29,"f":0.977,"c":4.02},{"n":"DMS","t":0.85,"x":16.24,"f":0.978,"c":4.19},{"n":"DMS","t":0.85,"x":23.36,"f":0.977,"c":4.36},{"n":"DMS","t":0.85,"x":33.6,"f":0.977,"c":4.53},{"n":"DMS","t":0.85,"x":48.33,"f":0.977,"c":4.7},{"n":"DMS","t":0.85,"x":69.52,"f":0.976,"c":4.87},{"n":"DMS","t":0.85,"x":100,"f":0.977,"c":5.04},
{"n":"DMS","t":0.8,"x":0.1,"f":0.977,"c":1.89},{"n":"DMS","t":0.8,"x":0.1438,"f":0.976,"c":2.06},{"n":"DMS","t":0.8,"x":0.2069,"f":0.977,"c":2.22},{"n":"DMS","t":0.8,"x":0.2976,"f":0.977,"c":2.39},{"n":"DMS","t":0.8,"x":0.4281,"f":0.976,"c":2.56},{"n":"DMS","t":0.8,"x":0.6158,"f":0.977,"c":2.73},{"n":"DMS","t":0.8,"x":0.8859,"f":0.977,"c":2.9},{"n":"DMS","t":0.8,"x":1.274,"f":0.977,"c":3.07},{"n":"DMS","t":0.8,"x":1.833,"f":0.976,"c":3.24},{"n":"DMS","t":0.8,"x":2.637,"f":0.977,"c":3.4},{"n":"DMS","t":0.8,"x":3.793,"f":0.977,"c":3.57},{"n":"DMS","t":0.8,"x":5.456,"f":0.977,"c":3.74},{"n":"DMS","t":0.8,"x":7.848,"f":0.977,"c":3.91},{"n":"DMS","t":0.8,"x":11.29,"f":0.976,"c":4.08},{"n":"DMS","t":0.8,"x":16.24,"f":0.977,"c":4.25},{"n":"DMS","t":0.8,"x":23.36,"f":0.977,"c":4.41},{"n":"DMS","t":0.8,"x":33.6,"f":0.977,"c":4.58},{"n":"DMS","t":0.8,"x":48.33,"f":0.976,"c":4.75},{"n":"DMS","t":0.8,"x":69.52,"f":0.977,"c":4.92},{"n":"DMS","t":0.8,"x":100,"f":0.977,"c":5.09},
{"n":"DMS","t":0.75,"x":0.1,"f":0.977,"c":1.97},{"n":"DMS","t":0.75,"x":0.1438,"f":0.977,"c":2.14},{"n":"DMS","t":0.75,"x":0.2069,"f":0.976,"c":2.3},{"n":"DMS","t":0.75,"x":0.2976,"f":0.977,"c":2.47},{"n":"DMS","t":0.75,"x":0.4281,"f":0.977,"c":2.63},{"n":"DMS","t":0.75,"x":0.6158,"f":0.978,"c":2.8},{"n":"DMS","t":0.75,"x":0.8859,"f":0.977,"c":2.97},{"n":"DMS","t":0.75,"x":1.274,"f":0.976,"c":3.13},{"n":"DMS","t":0.75,"x":1.833,"f":0.977,"c":3.3},{"n":"DMS","t":0.75,"x":2.637,"f":0.977,"c":3.47},{"n":"DMS","t":0.75,"x":3.793,"f":0.976,"c":3.63},{"n":"DMS","t":0.75,"x":5.456,"f":0.977,"c":3.8},{"n":"DMS","t":0.75,"x":7.848,"f":0.977,"c":3.96},{"n":"DMS","t":0.75,"x":11.29,"f":0.977,"c":4.13},{"n":"DMS","t":0.75,"x":16.24,"f":0.978,"c":4.3},{"n":"DMS","t":0.75,"x":23.36,"f":0.977,"c":4.46},{"n":"DMS","t":0.75,"x":33.6,"f":0.977,"c":4.63},{"n":"DMS","t":0.75,"x":48.33,"f":0.977,"c":4.8},{"n":"DMS","t":0.75,"x":69.52,"f":0.976,"c":4.96},{"n":"DMS","t":0.75,"x":100,"f":0.977,"c":5.13},
{"n":"DMS","t":0.7,"x":0.1,"f":0.977,"c":2.05},{"n":"DMS","t":0.7,"x":0.1438,"f":0.976,"c":2.21},{"n":"DMS","t":0.7,"x":0.2069,"f":0.977,"c":2.38},{"n":"DMS","t":0.7,"x":0.2976,"f":0.977,"c":2.54},{"n":"DMS","t":0.7,"x":0.4281,"f":0.976,"c":2.71},{"n":"DMS","t":0.7,"x":0.6158,"f":0.977,"c":2.87},{"n":"DMS","t":0.7,"x":0.8859,"f":0.977,"c":3.03},{"n":"DMS","t":0.7,"x":1.274,"f":0.977,"c":3.2},{"n":"DMS","t":0.7,"x":1.833,"f":0.976,"c":3.36},{"n":"DMS","t":0.7,"x":2.637,"f":0.977,"c":3.53},{"n":"DMS","t":0.7,"x":3.793,"f":0.977,"c":3.69},{"n":"DMS","t":0.7,"x":5.456,"f":0.977,"c":3.85},{"n":"DMS","t":0.7,"x":7.848,"f":0.977,"c":4.02},{"n":"DMS","t":0.7,"x":11.29,"f":0.976,"c":4.18},{"n":"DMS","t":0.7,"x":16.24,"f":0.977,"c":4.35},{"n":"DMS","t":0.7,"x":23.36,"f":0.977,"c":4.51},{"n":"DMS","t":0.7,"x":33.6,"f":0.977,"c":4.67},{"n":"DMS","t":0.7,"x":48.33,"f":0.976,"c":4.84},{"n":"DMS","t":0.7,"x":69.52,"f":0.977,"c":5.0},{"n":"DMS","t":0.7,"x":100,"f":0.977,"c":5.17},
{"n":"DMS","t":0.65,"x":0.1,"f":0.977,"c":2.13},{"n":"DMS","t":0.65,"x":0.1438,"f":0.977,"c":2.29},{"n":"DMS","t":0.65,"x":0.2069,"f":0.976,"c":2.45},{"n":"DMS","t":0.65,"x":0.2976,"f":0.977,"c":2.62},{"n":"DMS","t":0.65,"x":0.4281,"f":0.977,"c":2.78},{"n":"DMS","t":0.65,"x":0.6158,"f":0.978,"c":2.94},{"n":"DMS","t":0.65,"x":0.8859,"f":0.977,"c":3.1},{"n":"DMS","t":0.65,"x":1.274,"f":0.976,"c":3.26},{"n":"DMS","t":0.65,"x":1.833,"f":0.977,"c":3.42},{"n":"DMS","t":0.65,"x":2.637,"f":0.977,"c":3.59},{"n":"DMS","t":0.65,"x":3.793,"f":0.976,"c":3.75},{"n":"DMS","t":0.65,"x":5.456,"f":0.977,"c":3.91},{"n":"DMS","t":0.65,"x":7.848,"f":0.977,"c":4.07},{"n":"DMS","t":0.65,"x":11.29,"f":0.977,"c":4.23},{"n":"DMS","t":0.65,"x":16.24,"f":0.978,"c":4.4},{"n":"DMS","t":0.65,"x":23.36,"f":0.977,"c":4.56},{"n":"DMS","t":0.65,"x":33.6,"f":0.977,"c":4.72},{"n":"DMS","t":0.65,"x":48.33,"f":0.977,"c":4.88},{"n":"DMS","t":0.65,"x":69.52,"f":0.976,"c":5.04},{"n":"DMS","t":0.65,"x":100,"f":0.977,"c":5.21},
{"n":"DMS","t":0.6,"x":0.1,"f":0.977,"c":2.21},{"n":"DMS","t":0.6,"x":0.1438,"f":0.976,"c":2.37},{"n":"DMS","t":0.6,"x":0.2069,"f":0.977,"c":2.53},{"n":"DMS","t":0.6,"x":0.2976,"f":0.977,"c":2.69},{"n":"DMS","t":0.6,"x":0.4281,"f":0.976,"c":2.85},{"n":"DMS","t":0.6,"x":0.6158,"f":0.977,"c":3.01},{"n":"DMS","t":0.6,"x":0.8859,"f":0.977,"c":3.17},{"n":"DMS","t":0.6,"x":1.274,"f":0.977,"c":3.33},{"n":"DMS","t":0.6,"x":1.833,"f":0.976,"c":3.49},{"n":"DMS","t":0.6,"x":2.637,"f":0.977,"c":3.65},{"n":"DMS","t":0.6,"x":3.793,"f":0.977,"c":3.81},{"n":"DMS","t":0.6,"x":5.456,"f":0.977,"c":3.97},{"n":"DMS","t":0.6,"x":7.848,"f":0.977,"c":4.13},{"n":"DMS","t":0.6,"x":11.29,"f":0.976,"c":4.29},{"n":"DMS","t":0.6,"x":16.24,"f":0.977,"c":4.45},{"n":"DMS","t":0.6,"x":23.36,"f":0.977,"c":4.61},{"n":"DMS","t":0.6,"x":33.6,"f":0.977,"c":4.77},{"n":"DMS","t":0.6,"x":48.33,"f":0.976,"c":4.92},{"n":"DMS","t":0.6,"x":69.52,"f":0.977,"c":5.08},{"n":"DMS","t":0.6,"x":100,"f":0.977,"c":5.24},
{"n":"DMS","t":0.55,"x":0.1,"f":0.977,"c":2.3},{"n":"DMS","t":0.55,"x":0.1438,"f":0.977,"c":2.46},{"n":"DMS","t":0.55,"x":0.2069,"f":0.976,"c":2.62},{"n":"DMS","t":0.55,"x":0.2976,"f":0.977,"c":2.77},{"n":"DMS","t":0.55,"x":0.4281,"f":0.977,"c":2.93},{"n":"DMS","t":0.55,"x":0.6158,"f":0.978,"c":3.09},{"n":"DMS","t":0.55,"x":0.8859,"f":0.977,"c":3.25},{"n":"DMS","t":0.55,"x":1.274,"f":0.976,"c":3.4},{"n":"DMS","t":0.55,"x":1.833,"f":0.977,"c":3.56},{"n":"DMS","t":0.55,"x":2.637,"f":0.977,"c":3.72},{"n":"DMS","t":0.55,"x":3.793,"f":0.976,"c":3.88},{"n":"DMS","t":0.55,"x":5.456,"f":0.977,"c":4.03},{"n":"DMS","t":0.55,"x":7.848,"f":0.977,"c":4.19},{"n":"DMS","t":0.55,"x":11.29,"f":0.977,"c":4.35},{"n":"DMS","t":0.55,"x":16.24,"f":0.978,"c":4.51},{"n":"DMS","t":0.55,"x":23.36,"f":0.977,"c":4.66},{"n":"DMS","t":0.55,"x":33.6,"f":0.977,"c":4.82},{"n":"DMS","t":0.55,"x":48.33,"f":0.977,"c":4.98},{"n":"DMS","t":0.55,"x":69.52,"f":0.976,"c":5.14},{"n":"DMS","t":0.55,"x":100,"f":0.977,"c":5.29},
{"n":"DMS","t":0.5,"x":0.1,"f":0.977,"c":2.42},{"n":"DMS","t":0.5,"x":0.1438,"f":0.976,"c":2.57},{"n":"DMS","t":0.5,"x":0.2069,"f":0.977,"c":2.73},{"n":"DMS","t":0.5,"x":0.2976,"f":0.977,"c":2.88},{"n":"DMS","t":0.5,"x":0.4281,"f":0.976,"c":3.03},{"n":"DMS","t":0.5,"x":0.6158,"f":0.977,"c":3.19},{"n":"DMS","t":0.5,"x":0.8859,"f":0.977,"c":3.34},{"n":"DMS","t":0.5,"x":1.274,"f":0.977,"c":3.49},{"n":"DMS","t":0.5,"x":1.833,"f":0.976,"c":3.65},{"n":"DMS","t":0.5,"x":2.637,"f":0.977,"c":3.8},{"n":"DMS","t":0.5,"x":3.793,"f":0.977,"c":3.95},{"n":"DMS","t":0.5,"x":5.456,"f":0.977,"c":4.11},{"n":"DMS","t":0.5,"x":7.848,"f":0.977,"c":4.26},{"n":"DMS","t":0.5,"x":11.29,"f":0.976,"c":4.41},{"n":"DMS","t":0.5,"x":16.24,"f":0.977,"c":4.56},{"n":"DMS","t":0.5,"x":23.36,"f":0.977,"c":4.72},{"n":"DMS","t":0.5,"x":33.6,"f":0.977,"c":4.87},{"n":"DMS","t":0.5,"x":48.33,"f":0.976,"c":5.02},{"n":"DMS","t":0.5,"x":69.52,"f":0.977,"c":5.18},{"n":"DMS","t":0.5,"x":100,"f":0.977,"c":5.33},
{"n":"DMS","t":0.45,"x":0.1,"f":0.977,"c":2.54},{"n":"DMS","t":0.45,"x":0.1438,"f":0.977,"c":2.69},{"n":"DMS","t":0.45,"x":0.2069,"f":0.976,"c":2.84},{"n":"DMS","t":0.45,"x":0.2976,"f":0.977,"c":2.99},{"n":"DMS","t":0.45,"x":0.4281,"f":0.977,"c":3.14},{"n":"DMS","t":0.45,"x":0.6158,"f":0.978,"c":3.3},{"n":"DMS","t":0.45,"x":0.8859,"f":0.977,"c":3.45},{"n":"DMS","t":0.45,"x":1.274,"f":0.976,"c":3.6},{"n":"DMS","t":0.45,"x":1.833,"f":0.977,"c":3.75},{"n":"DMS","t":0.45,"x":2.637,"f":0.977,"c":3.9},{"n":"DMS","t":0.45,"x":3.793,"f":0.976,"c":4.05},{"n":"DMS","t":0.45,"x":5.456,"f":0.977,"c":4.2},{"n":"DMS","t":0.45,"x":7.848,"f":0.977,"c":4.35},{"n":"DMS","t":0.45,"x":11.29,"f":0.977,"c":4.5},{"n":"DMS","t":0.45,"x":16.24,"f":0.978,"c":4.66},{"n":"DMS","t":0.45,"x":23.36,"f":0.977,"c":4.81},{"n":"DMS","t":0.45,"x":33.6,"f":0.977,"c":4.96},{"n":"DMS","t":0.45,"x":48.33,"f":0.977,"c":5.11},{"n":"DMS","t":0.45,"x":69.52,"f":0.976,"c":5.26},{"n":"DMS","t":0.45,"x":100,"f":0.977,"c":5.41},
{"n":"DMS","t":0.4,"x":0.1,"f":0.977,"c":2.67},{"n":"DMS","t":0.4,"x":0.1438,"f":0.976,"c":2.82},{"n":"DMS","t":0.4,"x":0.2069,"f":0.977,"c":2.97},{"n":"DMS","t":0.4,"x":0.2976,"f":0.977,"c":3.12},{"n":"DMS","t":0.4,"x":0.4281,"f":0.976,"c":3.27},{"n":"DMS","t":0.4,"x":0.6158,"f":0.977,"c":3.41},{"n":"DMS","t":0.4,"x":0.8859,"f":0.977,"c":3.56},{"n":"DMS","t":0.4,"x":1.274,"f":0.977,"c":3.71},{"n":"DMS","t":0.4,"x":1.833,"f":0.976,"c":3.86},{"n":"DMS","t":0.4,"x":2.637,"f":0.977,"c":4.01},{"n":"DMS","t":0.4,"x":3.793,"f":0.977,"c":4.16},{"n":"DMS","t":0.4,"x":5.456,"f":0.977,"c":4.31},{"n":"DMS","t":0.4,"x":7.848,"f":0.977,"c":4.46},{"n":"DMS","t":0.4,"x":11.29,"f":0.976,"c":4.61},{"n":"DMS","t":0.4,"x":16.24,"f":0.977,"c":4.75},{"n":"DMS","t":0.4,"x":23.36,"f":0.977,"c":4.9},{"n":"DMS","t":0.4,"x":33.6,"f":0.977,"c":5.05},{"n":"DMS","t":0.4,"x":48.33,"f":0.976,"c":5.2},{"n":"DMS","t":0.4,"x":69.52,"f":0.977,"c":5.35},{"n":"DMS","t":0.4,"x":100,"f":0.977,"c":5.5},
{"n":"DMS","t":0.35,"x":0.1,"f":0.977,"c":2.79},{"n":"DMS","t":0.35,"x":0.1438,"f":0.977,"c":2.94},{"n":"DMS","t":0.35,"x":0.2069,"f":0.976,"c":3.08},{"n":"DMS","t":0.35,"x":0.2976,"f":0.977,"c":3.23},{"n":"DMS","t":0.35,"x":0.4281,"f":0.977,"c":3.38},{"n":"DMS","t":0.35,"x":0.6158,"f":0.978,"c":3.52},{"n":"DMS","t":0.35,"x":0.8859,"f":0.977,"c":3.67},{"n":"DMS","t":0.35,"x":1.274,"f":0.976,"c":3.82},{"n":"DMS","t":0.35,"x":1.833,"f":0.977,"c":3.96},{"n":"DMS","t":0.35,"x":2.637,"f":0.977,"c":4.11},{"n":"DMS","t":0.35,"x":3.793,"f":0.976,"c":4.26},{"n":"DMS","t":0.35,"x":5.456,"f":0.977,"c":4.4},{"n":"DMS","t":0.35,"x":7.848,"f":0.977,"c":4.55},{"n":"DMS","t":0.35,"x":11.29,"f":0.977,"c":4.7},{"n":"DMS","t":0.35,"x":16.24,"f":0.978,"c":4.84},{"n":"DMS","t":0.35,"x":23.36,"f":0.977,"c":4.99},{"n":"DMS","t":0.35,"x":33.6,"f":0.977,"c":5.14},{"n":"DMS","t":0.35,"x":48.33,"f":0.977,"c":5.28},{"n":"DMS","t":0.35,"x":69.52,"f":0.976,"c":5.43},{"n":"DMS","t":0.35,"x":100,"f":0.977,"c":5.58},
{"n":"DMS","t":0.3,"x":0.1,"f":0.977,"c":2.95},{"n":"DMS","t":0.3,"x":0.1438,"f":0.976,"c":3.09},{"n":"DMS","t":0.3,"x":0.2069,"f":0.977,"c":3.23},{"n":"DMS","t":0.3,"x":0.2976,"f":0.977,"c":3.38},{"n":"DMS","t":0.3,"x":0.4281,"f":0.976,"c":3.52},{"n":"DMS","t":0.3,"x":0.6158,"f":0.977,"c":3.66},{"n":"DMS","t":0.3,"x":0.8859,"f":0.977,"c":3.8},{"n":"DMS","t":0.3,"x":1.274,"f":0.977,"c":3.95},{"n":"DMS","t":0.3,"x":1.833,"f":0.976,"c":4.09},{"n":"DMS","t":0.3,"x":2.637,"f":0.977,"c":4.23},{"n":"DMS","t":0.3,"x":3.793,"f":0.977,"c":4.37},{"n":"DMS","t":0.3,"x":5.456,"f":0.977,"c":4.52},{"n":"DMS","t":0.3,"x":7.848,"f":0.977,"c":4.66},{"n":"DMS","t":0.3,"x":11.29,"f":0.976,"c":4.8},{"n":"DMS","t":0.3,"x":16.24,"f":0.977,"c":4.94},{"n":"DMS","t":0.3,"x":23.36,"f":0.977,"c":5.09},{"n":"DMS","t":0.3,"x":33.6,"f":0.977,"c":5.23},{"n":"DMS","t":0.3,"x":48.33,"f":0.976,"c":5.37},{"n":"DMS","t":0.3,"x":69.52,"f":0.977,"c":5.51},{"n":"DMS","t":0.3,"x":100,"f":0.977,"c":5.66},
{"n":"DMS","t":0.25,"x":0.1,"f":0.977,"c":3.12},{"n":"DMS","t":0.25,"x":0.1438,"f":0.977,"c":3.26},{"n":"DMS","t":0.25,"x":0.2069,"f":0.976,"c":3.4},{"n":"DMS","t":0.25,"x":0.2976,"f":0.977,"c":3.53},{"n":"DMS","t":0.25,"x":0.4281,"f":0.977,"c":3.67},{"n":"DMS","t":0.25,"x":0.6158,"f":0.978,"c":3.81},{"n":"DMS","t":0.25,"x":0.8859,"f":0.977,"c":3.95},{"n":"DMS","t":0.25,"x":1.274,"f":0.976,"c":4.09},{"n":"DMS","t":0.25,"x":1.833,"f":0.977,"c":4.22},{"n":"DMS","t":0.25,"x":2.637,"f":0.977,"c":4.36},{"n":"DMS","t":0.25,"x":3.793,"f":0.976,"c":4.5},{"n":"DMS","t":0.25,"x":5.456,"f":0.977,"c":4.64},{"n":"DMS","t":0.25,"x":7.848,"f":0.977,"c":4.78},{"n":"DMS","t":0.25,"x":11.29,"f":0.977,"c":4.92},{"n":"DMS","t":0.25,"x":16.24,"f":0.978,"c":5.05},{"n":"DMS","t":0.25,"x":23.36,"f":0.977,"c":5.19},{"n":"DMS","t":0.25,"x":33.6,"f":0.977,"c":5.33},{"n":"DMS","t":0.25,"x":48.33,"f":0.977,"c":5.47},{"n":"DMS","t":0.25,"x":69.52,"f":0.976,"c":5.6},{"n":"DMS","t":0.25,"x":100,"f":0.977,"c":5.74},
{"n":"DMS","t":0.2,"x":0.1,"f":0.977,"c":3.28},{"n":"DMS","t":0.2,"x":0.1438,"f":0.976,"c":3.42},{"n":"DMS","t":0.2,"x":0.2069,"f":0.977,"c":3.55},{"n":"DMS","t":0.2,"x":0.2976,"f":0.977,"c":3.69},{"n":"DMS","t":0.2,"x":0.4281,"f":0.976,"c":3.82},{"n":"DMS","t":0.2,"x":0.6158,"f":0.977,"c":3.96},{"n":"DMS","t":0.2,"x":0.8859,"f":0.977,"c":4.1},{"n":"DMS","t":0.2,"x":1.274,"f":0.977,"c":4.23},{"n":"DMS","t":0.2,"x":1.833,"f":0.976,"c":4.37},{"n":"DMS","t":0.2,"x":2.637,"f":0.977,"c":4.5},{"n":"DMS","t":0.2,"x":3.793,"f":0.977,"c":4.64},{"n":"DMS","t":0.2,"x":5.456,"f":0.977,"c":4.77},{"n":"DMS","t":0.2,"x":7.848,"f":0.977,"c":4.91},{"n":"DMS","t":0.2,"x":11.29,"f":0.976,"c":5.05},{"n":"DMS","t":0.2,"x":16.24,"f":0.977,"c":5.18},{"n":"DMS","t":0.2,"x":23.36,"f":0.977,"c":5.32},{"n":"DMS","t":0.2,"x":33.6,"f":0.977,"c":5.45},{"n":"DMS","t":0.2,"x":48.33,"f":0.976,"c":5.59},{"n":"DMS","t":0.2,"x":69.52,"f":0.977,"c":5.73},{"n":"DMS","t":0.2,"x":100,"f":0.977,"c":5.86},
{"n":"DMS","t":0.15,"x":0.1,"f":0.977,"c":3.53},{"n":"DMS","t":0.15,"x":0.1438,"f":0.977,"c":3.66},{"n":"DMS","t":0.15,"x":0.2069,"f":0.976,"c":3.79},{"n":"DMS","t":0.15,"x":0.2976,"f":0.977,"c":3.92},{"n":"DMS","t":0.15,"x":0.4281,"f":0.977,"c":4.06},{"n":"DMS","t":0.15,"x":0.6158,"f":0.978,"c":4.19},{"n":"DMS","t":0.15,"x":0.8859,"f":0.977,"c":4.32},{"n":"DMS","t":0.15,"x":1.274,"f":0.976,"c":4.45},{"n":"DMS","t":0.15,"x":1.833,"f":0.977,"c":4.58},{"n":"DMS","t":0.15,"x":2.637,"f":0.977,"c":4.71},{"n":"DMS","t":0.15,"x":3.793,"f":0.976,"c":4.85},{"n":"DMS","t":0.15,"x":5.456,"f":0.977,"c":4.98},{"n":"DMS","t":0.15,"x":7.848,"f":0.977,"c":5.11},{"n":"DMS","t":0.15,"x":11.29,"f":0.977,"c":5.24},{"n":"DMS","t":0.15,"x":16.24,"f":0.978,"c":5.37},{"n":"DMS","t":0.15,"x":23.36,"f":0.977,"c":5.5},{"n":"DMS","t":0.15,"x":33.6,"f":0.977,"c":5.64},{"n":"DMS","t":0.15,"x":48.33,"f":0.977,"c":5.77},{"n":"DMS","t":0.15,"x":69.52,"f":0.976,"c":5.9},{"n":"DMS","t":0.15,"x":100,"f":0.977,"c":6.03},
{"n":"DMS","t":0.1,"x":0.1,"f":0.977,"c":3.85},{"n":"DMS","t":0.1,"x":0.1438,"f":0.976,"c":3.98},{"n":"DMS","t":0.1,"x":0.2069,"f":0.977,"c":4.1},{"n":"DMS","t":0.1,"x":0.2976,"f":0.977,"c":4.23},{"n":"DMS","t":0.1,"x":0.4281,"f":0.976,"c":4.35},{"n":"DMS","t":0.1,"x":0.6158,"f":0.977,"c":4.48},{"n":"DMS","t":0.1,"x":0.8859,"f":0.977,"c":4.6},{"n":"DMS","t":0.1,"x":1.274,"f":0.977,"c":4.73},{"n":"DMS","t":0.1,"x":1.833,"f":0.976,"c":4.85},{"n":"DMS","t":0.1,"x":2.637,"f":0.977,"c":4.98},{"n":"DMS","t":0.1,"x":3.793,"f":0.977,"c":5.1},{"n":"DMS","t":0.1,"x":5.456,"f":0.977,"c":5.23},{"n":"DMS","t":0.1,"x":7.848,"f":0.977,"c":5.35},{"n":"DMS","t":0.1,"x":11.29,"f":0.976,"c":5.48},{"n":"DMS","t":0.1,"x":16.24,"f":0.977,"c":5.6},{"n":"DMS","t":0.1,"x":23.36,"f":0.977,"c":5.73},{"n":"DMS","t":0.1,"x":33.6,"f":0.977,"c":5.85},{"n":"DMS","t":0.1,"x":48.33,"f":0.976,"c":5.98},{"n":"DMS","t":0.1,"x":69.52,"f":0.977,"c":6.1},{"n":"DMS","t":0.1,"x":100,"f":0.977,"c":6.23},
{"n":"DMS","t":0.05,"x":0.1,"f":0.977,"c":4.45},{"n":"DMS","t":0.05,"x":0.1438,"f":0.977,"c":4.57},{"n":"DMS","t":0.05,"x":0.2069,"f":0.977,"c":4.69},{"n":"DMS","t":0.05,"x":0.2976,"f":0.977,"c":4.81},{"n":"DMS","t":0.05,"x":0.4281,"f":0.985,"c":4.93},{"n":"DMS","t":0.05,"x":0.6158,"f":0.986,"c":5.05},{"n":"DMS","t":0.05,"x":0.8859,"f":0.986,"c":5.17},{"n":"DMS","t":0.05,"x":1.274,"f":0.986,"c":5.29},{"n":"DMS","t":0.05,"x":1.833,"f":0.986,"c":5.41},{"n":"DMS","t":0.05,"x":2.637,"f":0.986,"c":5.53},{"n":"DMS","t":0.05,"x":3.793,"f":0.986,"c":5.65},{"n":"DMS","t":0.05,"x":5.456,"f":0.986,"c":5.77},{"n":"DMS","t":0.05,"x":7.848,"f":0.986,"c":5.89},{"n":"DMS","t":0.05,"x":11.29,"f":0.986,"c":6.01},{"n":"DMS","t":0.05,"x":16.24,"f":0.986,"c":6.13},{"n":"DMS","t":0.05,"x":23.36,"f":0.986,"c":6.25},{"n":"DMS","t":0.05,"x":33.6,"f":0.986,"c":6.37},{"n":"DMS","t":0.05,"x":48.33,"f":0.985,"c":6.49},{"n":"DMS","t":0.05,"x":69.52,"f":0.985,"c":6.61},{"n":"DMS","t":0.05,"x":100,"f":0.985,"c":6.73},
{"n":"DMS","t":0,"x":0.1,"f":0.977,"c":5.45},{"n":"DMS","t":0,"x":0.1438,"f":0.977,"c":5.58},{"n":"DMS","t":0,"x":0.2069,"f":0.978,"c":5.71},{"n":"DMS","t":0,"x":0.2976,"f":0.982,"c":5.83},{"n":"DMS","t":0,"x":0.4281,"f":0.985,"c":5.96},{"n":"DMS","t":0,"x":0.6158,"f":0.995,"c":6.09},{"n":"DMS","t":0,"x":0.8859,"f":0.996,"c":6.22},{"n":"DMS","t":0,"x":1.274,"f":0.996,"c":6.35},{"n":"DMS","t":0,"x":1.833,"f":0.995,"c":6.47},{"n":"DMS","t":0,"x":2.637,"f":0.975,"c":6.6},{"n":"DMS","t":0,"x":3.793,"f":0.955,"c":6.73},{"n":"DMS","t":0,"x":5.456,"f":0.955,"c":6.86},{"n":"DMS","t":0,"x":7.848,"f":0.94,"c":6.99},{"n":"DMS","t":0,"x":11.29,"f":0.958,"c":7.11},{"n":"DMS","t":0,"x":16.24,"f":0.96,"c":7.24},{"n":"DMS","t":0,"x":23.36,"f":0.962,"c":7.37},{"n":"DMS","t":0,"x":33.6,"f":0.985,"c":7.5},{"n":"DMS","t":0,"x":48.33,"f":0.985,"c":7.63},{"n":"DMS","t":0,"x":69.52,"f":0.987,"c":7.75},{"n":"DMS","t":0,"x":100,"f":0.985,"c":7.88}
]},
"spacing":3,
"hconcat":[
{"width":20,"height":403,"view":{"stroke":null},"data":{"values":[{"label":"Threshold"}]},"mark":{"type":"text","angle":270,"font":"Open Sans","fontSize":20,"fontWeight":"bold","color":"#000","baseline":"middle","align":"center"},"encoding":{"text":{"field":"label"}}},
{"spacing":5,"vconcat":[
{"spacing":-2,"vconcat":[
 {"width":646,"height":18,"view":{"fill":"#cacaca","stroke":null},
  "layer":[
   {"data":{"values":[{"n":"BA"}]},"mark":{"type":"text","font":"Open Sans","fontWeight":"bold","fontSize":14,"color":"#000","baseline":"middle"},"encoding":{"text":{"field":"n"}}},
   {"data":{"name":"cells"},"mark":{"type":"point","size":0,"opacity":0},"encoding":{"color":{"field":"f","type":"quantitative","scale":{"domain":[0.654,0.7117,0.7693,0.827,0.8847,0.9423,1.0],"range":["#d73027","#fc8d59","#fee08b","#ffffbf","#d9ef8b","#91cf60","#1a9850"],"interpolate":"lab"},"legend":{"orient":"none","legendX":54,"legendY":-65,"direction":"horizontal","title":"Fraction of Cooperators","titleAnchor":"middle","titleFontSize":13,"titleFontWeight":"bold","titleColor":"#000","titlePadding":8,"gradientLength":214,"gradientThickness":21,"gradientStrokeColor":"#888","gradientStrokeWidth":0.8,"values":[0.7,0.8,0.9,1.0],"format":".1f","labelFontSize":13,"labelFontWeight":"bold","labelColor":"#1a1a1a","labelAlign":"center","labelOffset":5,"labelOverlap":false}}}},
   {"data":{"name":"cells"},"mark":{"type":"point","size":0,"opacity":0},"encoding":{"color":{"field":"c","type":"quantitative","scale":{"scheme":"inferno","domain":[0,8.2],"nice":false,"zero":false},"legend":{"orient":"none","legendX":382,"legendY":-65,"direction":"horizontal","title":"Cost of Interference","titleAnchor":"middle","titleFontSize":13,"titleFontWeight":"bold","titleColor":"#000","titlePadding":8,"gradientLength":214,"gradientThickness":21,"gradientStrokeColor":"#888","gradientStrokeWidth":0.8,"values":[0,2,4,6],"labelExpr":"datum.value == 0 ? '0' : datum.value == 2 ? '10²' : datum.value == 4 ? '10⁴' : '10⁶'","labelFontSize":13,"labelFontWeight":"bold","labelColor":"#1a1a1a","labelAlign":"center","labelOffset":5,"labelOverlap":false}}}}
  ],
  "resolve":{"scale":{"color":"independent"}}},
 {"spacing":5,"resolve":{"scale":{"color":"independent"}},"hconcat":[
  {"width":319,"height":180,"data":{"name":"cells"},"transform":[{"filter":"datum.n == 'BA'"}],
   "mark":{"type":"point","filled":true,"opacity":1,"size":289,"shape":"M-1,-0.541H1V0.541H-1Z","strokeWidth":0,"clip":true},
   "encoding":{"x":{"field":"x","type":"quantitative","scale":{"type":"log","domain":[0.0813,121.6],"nice":false},"axis":null},
    "y":{"field":"t","type":"quantitative","scale":{"domain":[-0.025,1.025],"nice":false,"zero":false},"axis":{"values":[0,0.25,0.5,0.75,1],"format":".2f","title":null,"labelPadding":2}},
    "color":{"field":"f","type":"quantitative","scale":{"domain":[0.654,0.7117,0.7693,0.827,0.8847,0.9423,1.0],"range":["#d73027","#fc8d59","#fee08b","#ffffbf","#d9ef8b","#91cf60","#1a9850"],"interpolate":"lab"},"legend":null}}},
  {"width":319,"height":180,"data":{"name":"cells"},"transform":[{"filter":"datum.n == 'BA'"}],
   "mark":{"type":"point","filled":true,"opacity":1,"size":289,"shape":"M-1,-0.541H1V0.541H-1Z","strokeWidth":0,"clip":true},
   "encoding":{"x":{"field":"x","type":"quantitative","scale":{"type":"log","domain":[0.0813,121.6],"nice":false},"axis":null},
    "y":{"field":"t","type":"quantitative","scale":{"domain":[-0.025,1.025],"nice":false,"zero":false},"axis":null},
    "color":{"field":"c","type":"quantitative","scale":{"scheme":"inferno","domain":[0,8.2],"nice":false,"zero":false},"legend":null}}}
 ]}
]},
{"spacing":-2,"vconcat":[
 {"width":646,"height":18,"view":{"fill":"#cacaca","stroke":null},"data":{"values":[{"n":"DMS"}]},"mark":{"type":"text","font":"Open Sans","fontWeight":"bold","fontSize":14,"color":"#000","baseline":"middle"},"encoding":{"text":{"field":"n"}}},
 {"spacing":5,"resolve":{"scale":{"color":"independent"}},"hconcat":[
  {"width":319,"height":180,"data":{"name":"cells"},"transform":[{"filter":"datum.n == 'DMS'"}],
   "mark":{"type":"point","filled":true,"opacity":1,"size":289,"shape":"M-1,-0.541H1V0.541H-1Z","strokeWidth":0,"clip":true},
   "encoding":{"x":{"field":"x","type":"quantitative","scale":{"type":"log","domain":[0.0813,121.6],"nice":false},"axis":{"values":[0.1,1,10,100],"labelExpr":"datum.value < 0.5 ? '10⁻¹' : datum.value < 5 ? '10⁰' : datum.value < 50 ? '10¹' : '10²'","title":"Investment θ","titlePadding":7,"labelPadding":5,"labelFontSize":13}},
    "y":{"field":"t","type":"quantitative","scale":{"domain":[-0.025,1.025],"nice":false,"zero":false},"axis":{"values":[0,0.25,0.5,0.75,1],"format":".2f","title":null,"labelPadding":2}},
    "color":{"field":"f","type":"quantitative","scale":{"domain":[0.654,0.7117,0.7693,0.827,0.8847,0.9423,1.0],"range":["#d73027","#fc8d59","#fee08b","#ffffbf","#d9ef8b","#91cf60","#1a9850"],"interpolate":"lab"},"legend":null}}},
  {"width":319,"height":180,"data":{"name":"cells"},"transform":[{"filter":"datum.n == 'DMS'"}],
   "mark":{"type":"point","filled":true,"opacity":1,"size":289,"shape":"M-1,-0.541H1V0.541H-1Z","strokeWidth":0,"clip":true},
   "encoding":{"x":{"field":"x","type":"quantitative","scale":{"type":"log","domain":[0.0813,121.6],"nice":false},"axis":{"values":[0.1,1,10,100],"labelExpr":"datum.value < 0.5 ? '10⁻¹' : datum.value < 5 ? '10⁰' : datum.value < 50 ? '10¹' : '10²'","title":"Investment θ","titlePadding":7,"labelPadding":5,"labelFontSize":13}},
    "y":{"field":"t","type":"quantitative","scale":{"domain":[-0.025,1.025],"nice":false,"zero":false},"axis":null},
    "color":{"field":"c","type":"quantitative","scale":{"scheme":"inferno","domain":[0,8.2],"nice":false,"zero":false},"legend":null}}}
 ]}
]}
]}
]}
